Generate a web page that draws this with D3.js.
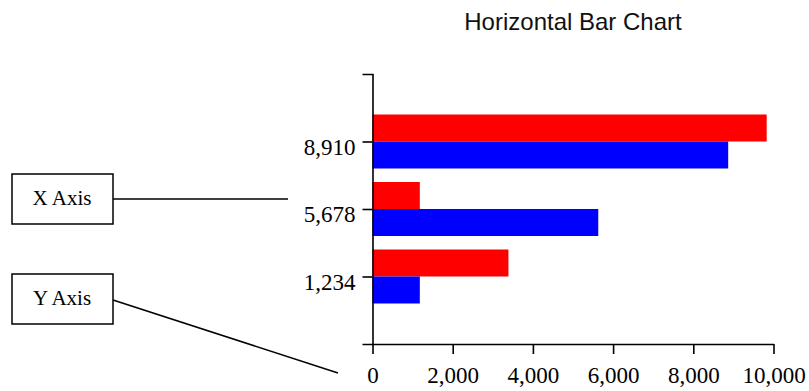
<!DOCTYPE html>
<html>
<head>
<meta charset="utf-8">
<script src="https://cdn.jsdelivr.net/npm/d3@7"></script>
<style>
  html, body { margin: 0; padding: 0; background: #fff; }
  svg { display: block; }
</style>
</head>
<body>
<svg id="chart" width="809" height="391"></svg>
<script>
// ---- data ----
const categories = ["1,234", "5,678", "8,910"];
const redValues  = [3390, 1180, 9830];
const blueValues = [1180, 5630, 8870];
const xTickValues = [0, 2000, 4000, 6000, 8000, 10000];
const seriesNames = ["red", "blue"];
const seriesColors = ["#ff0000", "#0000ff"];
const titleText = "Horizontal Bar Chart";
const annotationLabels = ["X Axis", "Y Axis"];

// ---- layout ----
const svg = d3.select("#chart");
const plot = { left: 372.5, right: 773.5, top: 74, bottom: 344 };
const serif = "'Liberation Serif', 'Times New Roman', serif";

const x = d3.scaleLinear().domain([0, 10000]).range([plot.left, plot.right]);
const y = d3.scalePoint().domain(categories).range([plot.bottom, plot.top]).padding(1);
const sub = d3.scaleBand().domain(seriesNames).range([-27, 27]);
const color = d3.scaleOrdinal().domain(seriesNames).range(seriesColors);

const rows = categories.map((c, i) => ({ cat: c, red: redValues[i], blue: blueValues[i] }));

// bars
const g = svg.append("g");
rows.forEach(r => {
  seriesNames.forEach(s => {
    g.append("rect")
      .attr("x", x(0))
      .attr("y", y(r.cat) + sub(s))
      .attr("width", x(r[s]) - x(0))
      .attr("height", sub.bandwidth())
      .attr("fill", color(s));
  });
});

// axes
const xAxis = svg.append("g")
  .attr("transform", `translate(0,${plot.bottom})`)
  .call(d3.axisBottom(x).tickValues(xTickValues).tickFormat(d3.format(",")).tickSize(10).tickSizeOuter(0).tickPadding(13));
const yAxis = svg.append("g")
  .attr("transform", `translate(${plot.left},0)`)
  .call(d3.axisLeft(y).tickSize(10).tickSizeOuter(10).tickPadding(7));

[xAxis, yAxis].forEach(a => {
  a.selectAll("path, line").attr("stroke", "#000").attr("stroke-width", 1.6);
  a.selectAll("text").attr("fill", "#000").style("font-family", serif).style("font-size", "23px");
});
yAxis.selectAll("text").attr("dy", "0.55em");

// title
svg.append("text")
  .attr("x", (plot.left + plot.right) / 2)
  .attr("y", 29.5)
  .attr("text-anchor", "middle")
  .style("font-family", "'Liberation Sans', Arial, sans-serif")
  .style("font-size", "24px")
  .attr("fill", "#111")
  .text(titleText);

// annotation boxes
const boxes = [
  { label: annotationLabels[0], x: 12, y: 174, w: 101, h: 50, tx: 62, ty: 205, from: [113, 199], to: [288, 199] },
  { label: annotationLabels[1], x: 12, y: 274, w: 101, h: 50, tx: 62, ty: 305, from: [113, 300], to: [338, 373] }
];
boxes.forEach(b => {
  svg.append("rect")
    .attr("x", b.x).attr("y", b.y).attr("width", b.w).attr("height", b.h)
    .attr("fill", "#fff").attr("stroke", "#000").attr("stroke-width", 1.5);
  svg.append("text")
    .attr("x", b.tx).attr("y", b.ty).attr("text-anchor", "middle")
    .style("font-family", serif).style("font-size", "21px").attr("fill", "#000")
    .text(b.label);
  svg.append("line")
    .attr("x1", b.from[0]).attr("y1", b.from[1]).attr("x2", b.to[0]).attr("y2", b.to[1])
    .attr("stroke", "#000").attr("stroke-width", 1.5);
});
</script>
</body>
</html>
